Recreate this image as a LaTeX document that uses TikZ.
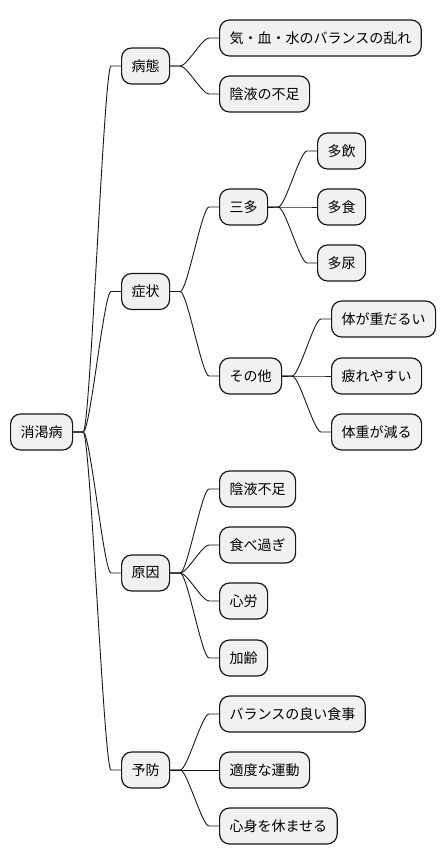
\documentclass[tikz,border=0pt]{standalone}
\usepackage{fontspec}
\setmainfont{Noto Sans CJK JP}
\usetikzlibrary{calc}
\definecolor{nodefill}{HTML}{F1F1F1}
\definecolor{nodeline}{HTML}{181818}
\tikzset{
  mm/.style={draw=nodeline, fill=nodefill, rounded corners=10pt, line width=1.2pt,
    minimum height=36pt, inner xsep=10pt, inner ysep=0pt, anchor=west,
    font=\fontsize{14pt}{16pt}\selectfont},
  lk/.style={line width=0.9pt, draw=nodeline},
}
\newcommand\mmlink[2]{\draw[lk] (#1.east) -- ($(#1.east)+(10,0)$) .. controls ($(#1.east)+(17,0)$) and ($(#2.west)+(-17,0)$) .. ($(#2.west)+(-10,0)$) -- (#2.west);}
\begin{document}
\begin{tikzpicture}[x=1pt,y=-1pt]
\useasboundingbox (0,0) rectangle (446,865);
\node[mm] (root) at (10,432) {消渇病};
\node[mm] (a) at (121,66) {病態};
\node[mm] (b) at (121,291.5) {症状};
\node[mm] (c) at (121,573) {原因};
\node[mm] (d) at (121,770) {予防};
\node[mm] (a1) at (219,38) {気・血・水のバランスの乱れ};
\node[mm] (a2) at (219,94) {陰液の不足};
\node[mm] (b1) at (219,207) {三多};
\node[mm] (b2) at (219,376) {その他};
\node[mm] (b11) at (317,151) {多飲};
\node[mm] (b12) at (317,207) {多食};
\node[mm] (b13) at (317,263) {多尿};
\node[mm] (b21) at (331,319) {体が重だるい};
\node[mm] (b22) at (331,376) {疲れやすい};
\node[mm] (b23) at (331,432) {体重が減る};
\node[mm] (c1) at (219,489) {陰液不足};
\node[mm] (c2) at (219,545) {食べ過ぎ};
\node[mm] (c3) at (219,601) {心労};
\node[mm] (c4) at (219,658) {加齢};
\node[mm] (d1) at (219,714) {バランスの良い食事};
\node[mm] (d2) at (219,770) {適度な運動};
\node[mm] (d3) at (219,826) {心身を休ませる};
\mmlink{root}{a}\mmlink{root}{b}\mmlink{root}{c}\mmlink{root}{d}
\mmlink{a}{a1}\mmlink{a}{a2}
\mmlink{b}{b1}\mmlink{b}{b2}
\mmlink{b1}{b11}\mmlink{b1}{b12}\mmlink{b1}{b13}
\mmlink{b2}{b21}\mmlink{b2}{b22}\mmlink{b2}{b23}
\mmlink{c}{c1}\mmlink{c}{c2}\mmlink{c}{c3}\mmlink{c}{c4}
\mmlink{d}{d1}\mmlink{d}{d2}\mmlink{d}{d3}
\end{tikzpicture}
\end{document}
